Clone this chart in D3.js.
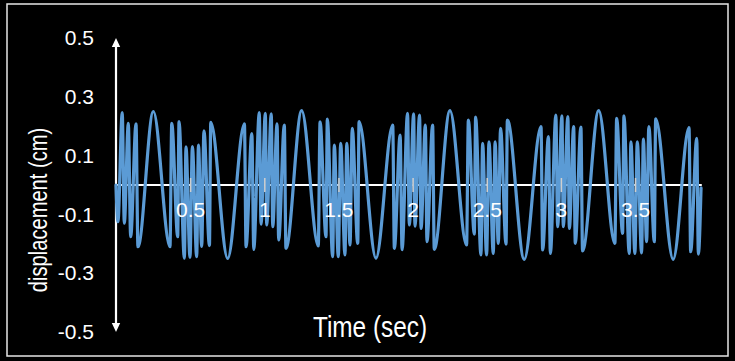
<!DOCTYPE html>
<html>
<head>
<meta charset="utf-8">
<script src="https://cdn.jsdelivr.net/npm/d3@7"></script>
<style>
  html, body { margin: 0; padding: 0; background: #000; }
  svg { display: block; }
  text { font-family: "Liberation Sans", Arial, Helvetica, sans-serif; fill: #fff; }
</style>
</head>
<body>
<svg id="chart" width="735" height="361"></svg>
<script>
// Sampled displacement trace: turning points of the signal, one second per row group
const times = [
  0.000, 0.013, 0.042, 0.056, 0.083, 0.099, 0.135, 0.148, 0.252, 0.364,
  0.376, 0.416, 0.425, 0.461, 0.472, 0.499, 0.515, 0.544, 0.556, 0.578,
  0.593, 0.630, 0.639, 0.753, 0.866, 0.877, 0.916, 0.929, 0.966, 0.978,

  1.007, 1.016, 1.047, 1.057, 1.086, 1.097, 1.135, 1.146, 1.252, 1.364,
  1.376, 1.416, 1.425, 1.461, 1.472, 1.499, 1.515, 1.544, 1.556, 1.578,
  1.593, 1.630, 1.639, 1.753, 1.866, 1.877, 1.916, 1.929, 1.966, 1.978,

  2.007, 2.016, 2.047, 2.057, 2.086, 2.097, 2.135, 2.146, 2.252, 2.364,
  2.376, 2.416, 2.425, 2.461, 2.472, 2.499, 2.515, 2.544, 2.556, 2.578,
  2.593, 2.630, 2.639, 2.753, 2.866, 2.877, 2.916, 2.929, 2.966, 2.978,

  3.007, 3.016, 3.047, 3.057, 3.086, 3.097, 3.135, 3.146, 3.255, 3.364,
  3.376, 3.416, 3.425, 3.461, 3.472, 3.499, 3.515, 3.544, 3.556, 3.578,
  3.593, 3.630, 3.639, 3.757, 3.864, 3.875, 3.916, 3.927, 3.945
];

const displacement = [
  0.000, -0.125, 0.246, -0.130, 0.210, -0.176, 0.208, -0.210, 0.250, -0.210,
  0.210, -0.176, 0.216, -0.249, 0.130, -0.246, 0.131, -0.244, 0.136, -0.209,
  0.184, -0.206, 0.213, -0.250, 0.208, -0.210, 0.175, -0.219, 0.246, -0.133,

  0.244, -0.136, 0.242, -0.142, 0.208, -0.187, 0.204, -0.216, 0.253, -0.207,
  0.215, -0.176, 0.224, -0.244, 0.136, -0.244, 0.142, -0.238, 0.142, -0.204,
  0.193, -0.199, 0.216, -0.249, 0.204, -0.216, 0.170, -0.220, 0.244, -0.136,

  0.242, -0.140, 0.238, -0.148, 0.204, -0.193, 0.204, -0.219, 0.253, -0.204,
  0.221, -0.167, 0.231, -0.238, 0.142, -0.238, 0.147, -0.233, 0.147, -0.199,
  0.193, -0.201, 0.221, -0.253, 0.199, -0.221, 0.165, -0.233, 0.238, -0.142,

  0.235, -0.142, 0.233, -0.148, 0.199, -0.199, 0.197, -0.224, 0.253, -0.199,
  0.227, -0.165, 0.235, -0.233, 0.147, -0.233, 0.147, -0.231, 0.156, -0.193,
  0.199, -0.193, 0.225, -0.253, 0.195, -0.227, 0.159, -0.235, -0.010
];

const timeMax = 3.95;
const xTicks = [0.5, 1, 1.5, 2, 2.5, 3, 3.5];
const xTickLabels = ["0.5", "1", "1.5", "2", "2.5", "3", "3.5"];
const yTicks = [-0.5, -0.3, -0.1, 0.1, 0.3, 0.5];
const yTickLabels = ["-0.5", "-0.3", "-0.1", "0.1", "0.3", "0.5"];
const xTitle = "Time (sec)";
const yTitle = "displacement (cm)";

const svg = d3.select("#chart");

// frame
svg.append("rect")
  .attr("x", 7).attr("y", 4)
  .attr("width", 721).attr("height", 352)
  .attr("fill", "#000")
  .attr("stroke", "#e6e6e6")
  .attr("stroke-width", 1.5);

const x = d3.scaleLinear().domain([0, 4]).range([116, 709.2]);
const y = d3.scaleLinear().domain([-0.5, 0.5]).range([332, 38]);

// vertical axis with arrowheads at both ends
svg.append("line")
  .attr("x1", x(0)).attr("x2", x(0))
  .attr("y1", y(0.5) + 4).attr("y2", y(-0.5) - 4)
  .attr("stroke", "#fff").attr("stroke-width", 2.2);

const arrow = (tipY, dir) =>
  `M${x(0)},${tipY} L${x(0) - 4.2},${tipY + dir * 9} L${x(0) + 4.2},${tipY + dir * 9} Z`;
svg.append("path").attr("d", arrow(y(0.5), 1)).attr("fill", "#fff");
svg.append("path").attr("d", arrow(y(-0.5), -1)).attr("fill", "#fff");

// horizontal axis along zero
svg.append("line")
  .attr("x1", x(0)).attr("x2", x(timeMax))
  .attr("y1", y(0)).attr("y2", y(0))
  .attr("stroke", "#fff").attr("stroke-width", 2.2);

const xAxis = svg.append("g")
  .attr("transform", `translate(0,${y(0)})`)
  .call(d3.axisBottom(x)
    .tickValues(xTicks)
    .tickFormat((d, i) => xTickLabels[i])
    .tickSizeInner(7)
    .tickSizeOuter(0)
    .tickPadding(10));
xAxis.select(".domain").remove();
xAxis.selectAll(".tick line")
  .attr("y1", -7)
  .attr("stroke", "#cfcfcf")
  .attr("stroke-width", 1.5);

// displacement trace
const points = times.map((t, i) => [t, displacement[i]]);
const line = d3.line()
  .x(d => x(d[0]))
  .y(d => y(d[1]))
  .curve(d3.curveMonotoneX);

svg.append("path")
  .datum(points)
  .attr("d", line)
  .attr("fill", "none")
  .attr("stroke", "#5b9bd5")
  .attr("stroke-width", 3.2)
  .attr("stroke-linejoin", "round")
  .attr("stroke-linecap", "round");

// tick labels drawn above the trace
xAxis.raise();
xAxis.selectAll(".tick text")
  .attr("y", 17)
  .attr("font-size", 21)
  .attr("fill", "#fff")
  .style("font-family", "'Liberation Sans', Arial, sans-serif");

const yAxis = svg.append("g")
  .attr("transform", `translate(${x(0)},0)`)
  .call(d3.axisLeft(y)
    .tickValues(yTicks)
    .tickFormat((d, i) => yTickLabels[i])
    .tickSize(0)
    .tickPadding(22));
yAxis.select(".domain").remove();
yAxis.selectAll(".tick text")
  .attr("font-size", 21)
  .attr("fill", "#fff")
  .style("font-family", "'Liberation Sans', Arial, sans-serif");

// axis titles
svg.append("text")
  .attr("transform", "translate(370,337) scale(0.84,1)")
  .attr("text-anchor", "middle")
  .attr("font-size", 29)
  .text(xTitle);

svg.append("text")
  .attr("transform", "translate(47,210) rotate(-90) scale(0.76,1)")
  .attr("text-anchor", "middle")
  .attr("font-size", 26.5)
  .text(yTitle);
</script>
</body>
</html>
